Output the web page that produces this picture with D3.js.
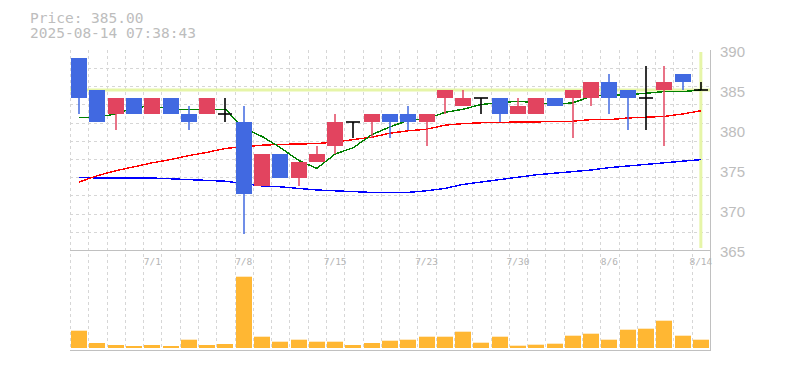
<!DOCTYPE html>
<html>
<head>
<meta charset="utf-8">
<script src="https://cdn.jsdelivr.net/npm/d3@7"></script>
<style>
    body { margin: 0; background: #fff; }
    svg { display: block; }
</style>
</head>
<body>
<div id="chart"></div>
<script>
// Daily candles, 6/25 - 8/14
const dates = ['6/25', '6/26', '6/27', '6/30', '7/1', '7/2', '7/3', '7/4', '7/7', '7/8',
    '7/9', '7/10', '7/11', '7/14', '7/15', '7/16', '7/17', '7/18', '7/22', '7/23',
    '7/24', '7/25', '7/28', '7/29', '7/30', '7/31', '8/1', '8/4', '8/5', '8/6',
    '8/7', '8/8', '8/12', '8/13', '8/14'];
const opens = [389, 385, 382, 384, 382, 384, 382, 382, 382, 381,
    373, 377, 374, 376, 378, 381, 381, 382, 382, 381,
    384, 383, 384, 384, 382, 382, 384, 384, 384, 386,
    385, 384, 385, 387, 385];
const highs = [389, 385, 384, 384, 384, 384, 383, 384, 384, 383,
    377, 377, 376, 378, 382, 381, 382, 382, 383, 382,
    385, 385, 384, 384, 384, 384, 384, 385, 386, 387,
    385, 388, 388, 387, 386];
const lows = [382, 381, 380, 382, 382, 382, 380, 382, 381, 367,
    373, 374, 373, 376, 377, 379, 379, 379, 380, 378,
    382, 383, 382, 381, 382, 382, 383, 379, 383, 382,
    380, 380, 378, 385, 385];
const closes = [384, 381, 384, 382, 384, 382, 381, 384, 382, 372,
    377, 374, 376, 377, 381, 381, 382, 381, 381, 382,
    385, 384, 384, 382, 383, 384, 383, 385, 386, 384,
    384, 384, 386, 386, 385];
const volumes = [17.3, 5, 3, 2, 3, 2, 8.3, 3, 4, 71.3,
    11.3, 6.3, 8.3, 6.3, 6.3, 3, 5, 7.3, 8.3, 11.3,
    11.3, 16.3, 5.3, 11.3, 2.3, 3.3, 4.3, 12.3, 14.3, 8.3,
    18.3, 19.3, 27.3, 12.3, 8.3];

// Moving averages (5 / 25 / 75 day)
const ma5 = [381.6, 381.6, 382.0, 382.8, 383.0, 382.6, 382.6, 382.6, 382.6, 380.2,
    379.2, 377.8, 376.2, 375.2, 377.0, 377.8, 379.4, 380.4, 381.2, 381.4,
    382.2, 382.6, 383.2, 383.4, 383.6, 383.4, 383.2, 383.4, 384.2, 384.4,
    384.4, 384.6, 384.8, 384.8, 385.0];
const ma25 = [373.5, 374.3, 374.9, 375.4, 375.9, 376.3, 376.8, 377.2, 377.7, 377.9,
    378.1, 378.2, 378.25, 378.3, 378.5, 378.8, 379.1, 379.6, 379.9, 380.1,
    380.6, 380.8, 380.9, 380.95, 381.0, 381.0, 381.1, 381.1, 381.3, 381.3,
    381.5, 381.6, 381.7, 382.0, 382.4];
const ma75 = [374.1, 374.0, 374.0, 374.0, 374.0, 373.9, 373.8, 373.7, 373.6, 373.3,
    373.0, 372.9, 372.7, 372.5, 372.4, 372.3, 372.2, 372.2, 372.2, 372.4,
    372.7, 373.2, 373.5, 373.8, 374.1, 374.4, 374.6, 374.8, 375.0, 375.3,
    375.5, 375.7, 375.9, 376.1, 376.3];

const priceTicks = [365, 370, 375, 380, 385, 390];
const dateTicks = ['7/1', '7/8', '7/15', '7/23', '7/30', '8/6', '8/14'];
const lastPrice = 385;
const timestamp = '2025-08-14 07:38:43';

const colors = {
    up: '#e2445f',
    down: '#4169e1',
    even: '#000',
    volume: '#ffb733',
    cross: '#e6f5a8',
    grid: '#d6d6d6',
    frame: '#c0c0c0',
    text: '#bdbdbd'
};

const width = 785, height = 370;
const left = 70, right = 710;
const priceTop = 50, priceBottom = 250;
const volTop = 250, volBottom = 348, panelBottom = 350;

const svg = d3.select('#chart').append('svg')
    .attr('width', width)
    .attr('height', height);

const x = d3.scaleBand()
    .domain(dates)
    .range([left, right]);
const step = x.step();
const bodyW = 16;
const cx = d => x(d) + step / 2;

const y = d3.scaleLinear()
    .domain([365, 390])
    .range([priceBottom, priceTop]);

const yVol = d3.scaleLinear()
    .domain([0, 98])
    .range([volBottom, volBottom - 98]);

// Grid
const grid = svg.append('g')
    .attr('stroke', colors.grid)
    .attr('stroke-dasharray', '3,3')
    .attr('shape-rendering', 'crispEdges');

dates.forEach(d => {
    grid.append('line')
        .attr('x1', Math.round(x(d)) + 0.5).attr('x2', Math.round(x(d)) + 0.5)
        .attr('y1', priceTop).attr('y2', panelBottom);
});

d3.range(0, 11).forEach(k => {
    const gy = Math.round(priceBottom - k * 18.2) + 0.5;
    grid.append('line')
        .attr('x1', left).attr('x2', right)
        .attr('y1', gy).attr('y2', gy);
});

// Frame
const frame = svg.append('g')
    .attr('stroke', colors.frame)
    .attr('stroke-width', 1.5)
    .attr('shape-rendering', 'crispEdges');

frame.append('line')
    .attr('x1', left).attr('x2', right)
    .attr('y1', priceBottom + 0.5).attr('y2', priceBottom + 0.5);
frame.append('line')
    .attr('x1', left).attr('x2', right + 1)
    .attr('y1', panelBottom + 0.5).attr('y2', panelBottom + 0.5);
frame.append('line')
    .attr('x1', right + 0.5).attr('x2', right + 0.5)
    .attr('y1', priceTop).attr('y2', panelBottom);

// Crosshair on the latest price
const last = dates[dates.length - 1];
svg.append('line')
    .attr('x1', left).attr('x2', right)
    .attr('y1', y(lastPrice)).attr('y2', y(lastPrice))
    .attr('stroke', colors.cross)
    .attr('stroke-width', 3);

svg.append('line')
    .attr('x1', cx(last)).attr('x2', cx(last))
    .attr('y1', priceTop + 2).attr('y2', priceBottom - 2)
    .attr('stroke', colors.cross)
    .attr('stroke-width', 3);

// Moving average lines
const maLine = d3.line()
    .x((v, i) => cx(dates[i]))
    .y(v => y(v));

[[ma75, '#0000ff'], [ma25, '#ff0000'], [ma5, '#008000']].forEach(([vals, color]) => {
    svg.append('path')
        .datum(vals)
        .attr('d', maLine)
        .attr('fill', 'none')
        .attr('stroke', color)
        .attr('stroke-width', 1.4)
        .attr('shape-rendering', 'crispEdges');
});

// Candles
const candles = dates.map((d, i) => ({
    date: d, open: opens[i], high: highs[i], low: lows[i], close: closes[i]
}));

candles.forEach(c => {
    const g = svg.append('g');
    const mid = Math.round(cx(c.date));

    if (c.open === c.close) {
        // doji drawn as a black cross
        g.append('line')
            .attr('x1', mid).attr('x2', mid)
            .attr('y1', y(c.high)).attr('y2', y(c.low))
            .attr('stroke', colors.even)
            .attr('stroke-width', 1.6);
        g.append('line')
            .attr('x1', mid - bodyW / 2 + 1).attr('x2', mid + bodyW / 2 - 1)
            .attr('y1', y(c.open)).attr('y2', y(c.open))
            .attr('stroke', colors.even)
            .attr('stroke-width', 1.6);
        return;
    }

    const color = c.close > c.open ? colors.up : colors.down;
    g.append('line')
        .attr('x1', mid).attr('x2', mid)
        .attr('y1', y(c.high)).attr('y2', y(c.low))
        .attr('stroke', color)
        .attr('stroke-width', 1.5);
    g.append('rect')
        .attr('x', mid - bodyW / 2)
        .attr('y', y(Math.max(c.open, c.close)))
        .attr('width', bodyW)
        .attr('height', Math.abs(y(c.open) - y(c.close)))
        .attr('fill', color);
});

// Volume bars
svg.append('g')
    .selectAll('rect')
    .data(volumes)
    .join('rect')
    .attr('x', (v, i) => Math.round(cx(dates[i])) - bodyW / 2)
    .attr('y', v => yVol(v))
    .attr('width', bodyW)
    .attr('height', v => yVol(0) - yVol(v))
    .attr('fill', colors.volume);

// Axes
const yAxis = svg.append('g')
    .attr('transform', `translate(${right},0)`)
    .call(d3.axisRight(y).tickValues(priceTicks).tickSize(0).tickPadding(10));
yAxis.select('.domain').remove();
yAxis.selectAll('text')
    .attr('y', 2)
    .attr('fill', colors.text)
    .style('font-family', '"Liberation Sans", Arial, sans-serif')
    .style('font-size', '15px');

const xAxis = svg.append('g')
    .attr('transform', `translate(0,${priceBottom})`)
    .call(d3.axisBottom(x).tickValues(dateTicks).tickSize(0).tickPadding(8.5));
xAxis.select('.domain').remove();
xAxis.selectAll('text')
    .attr('fill', '#b4b4b4')
    .style('font-family', '"DejaVu Sans Mono", monospace')
    .style('font-size', '9.5px');

// Header
const header = svg.append('g')
    .attr('fill', colors.text)
    .style('font-family', '"DejaVu Sans Mono", monospace')
    .style('font-size', '14.5px');

header.append('text')
    .attr('x', 30).attr('y', 22.5)
    .text(`Price: ${lastPrice.toFixed(2)}`);
header.append('text')
    .attr('x', 30).attr('y', 37.5)
    .text(timestamp);
</script>
</body>
</html>
